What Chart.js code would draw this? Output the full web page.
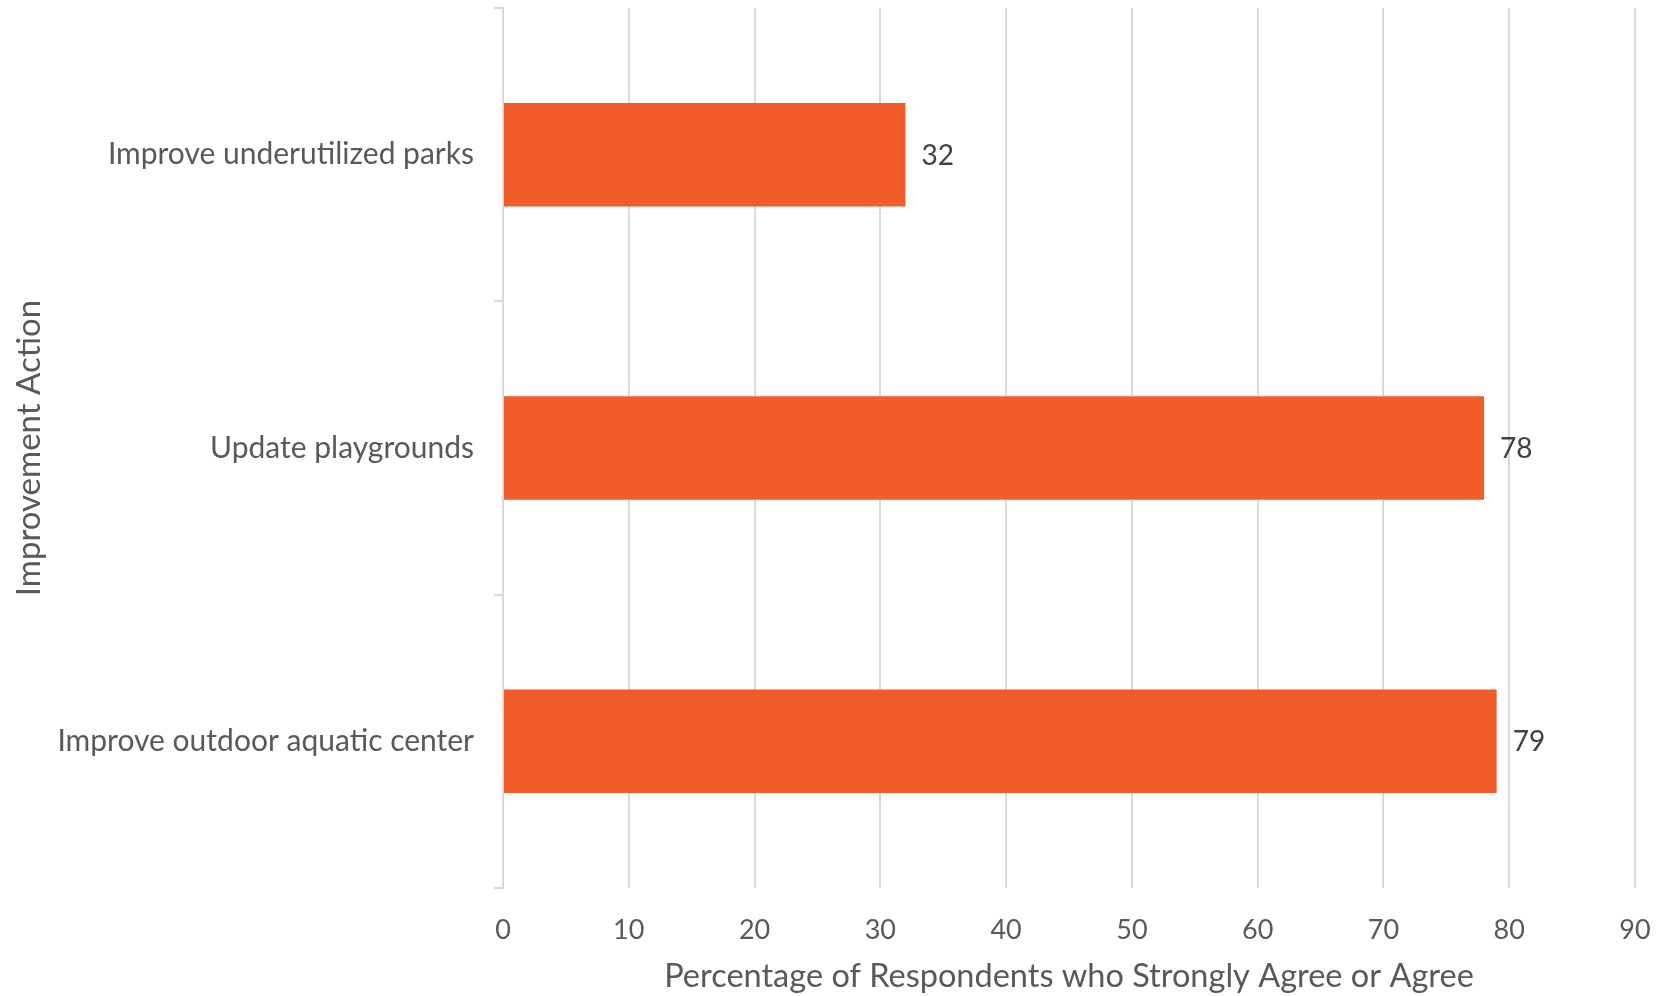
<!DOCTYPE html>
<html>
<head>
<meta charset="utf-8">
<script src="https://cdn.jsdelivr.net/npm/chart.js@4"></script>
<style>
  html, body { margin: 0; padding: 0; background: #fff; }
  #wrap { width: 1658px; height: 996px; position: relative; }
</style>
</head>
<body>
<div id="wrap"><canvas id="barActions"></canvas></div>
<script>
const categories = [
  "Improve underutilized parks",
  "Update playgrounds",
  "Improve outdoor aquatic center"
];
const agreeValues = [32, 78, 79];
const xTicks = [0, 10, 20, 30, 40, 50, 60, 70, 80, 90];

const textColor = "#595959";
const gridColor = "#D9D9D9";
const barColor = "#F05D29";
const fontFamily = "Lato, 'Open Sans', sans-serif";

// labels next to the bar ends
const valueLabels = {
  id: "valueLabels",
  afterDatasetsDraw(chart) {
    const ctx = chart.ctx;
    const meta = chart.getDatasetMeta(0);
    ctx.save();
    ctx.font = "28px " + fontFamily;
    ctx.fillStyle = "#404040";
    ctx.textAlign = "left";
    ctx.textBaseline = "middle";
    meta.data.forEach((bar, i) => {
      ctx.fillText(String(agreeValues[i]), bar.x + 16, bar.y + 1);
    });
    ctx.restore();
  }
};

new Chart(document.getElementById("barActions"), {
  type: "bar",
  data: {
    labels: categories,
    datasets: [{
      data: agreeValues,
      backgroundColor: barColor,
      borderWidth: 0,
      categoryPercentage: 1,
      barPercentage: 0.353
    }]
  },
  options: {
    indexAxis: "y",
    responsive: true,
    maintainAspectRatio: false,
    animation: false,
    layout: { padding: { left: 10, right: 23, top: 8, bottom: 0 } },
    plugins: {
      legend: { display: false },
      tooltip: { enabled: false }
    },
    scales: {
      x: {
        min: 0,
        max: 90,
        afterBuildTicks: (s) => { s.ticks = xTicks.map(v => ({ value: v })); },
        afterFit: (s) => {
          s.height = 108;
          s.paddingLeft = 0;
          s.paddingRight = 0;
        },
        border: { display: false },
        grid: { color: gridColor, lineWidth: 2, drawTicks: false },
        ticks: { color: textColor, font: { family: fontFamily, size: 27 }, padding: 26, maxRotation: 0 },
        title: {
          display: true,
          text: "Percentage of Respondents who Strongly Agree or Agree",
          color: textColor,
          font: { family: fontFamily, size: 32.5 },
          padding: 0
        }
      },
      y: {
        offset: true,
        afterFit: (s) => {
          s.width = 503 - 10;
          s.paddingTop = 0;
          s.paddingBottom = 0;
        },
        border: { display: true, color: gridColor, width: 2 },
        grid: { offset: true, drawOnChartArea: false, drawTicks: true, tickLength: 9, color: gridColor, lineWidth: 2 },
        ticks: { color: textColor, font: { family: fontFamily, size: 30 }, padding: 20 },
        title: {
          display: true,
          text: "Improvement Action",
          color: textColor,
          font: { family: fontFamily, size: 33 },
          padding: 0
        }
      }
    }
  },
  plugins: [valueLabels]
});
</script>
</body>
</html>
